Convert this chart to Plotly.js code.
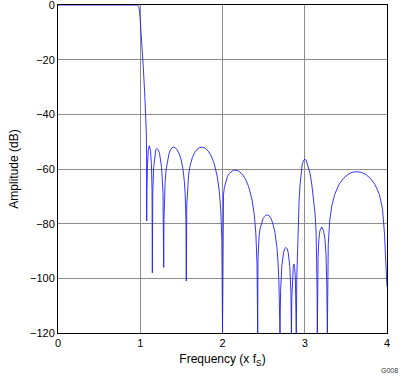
<!DOCTYPE html>
<html>
<head>
<meta charset="utf-8">
<script src="https://cdn.plot.ly/plotly-3.0.1.min.js"></script>
<style>html,body{margin:0;padding:0;background:#fff;}#chart{width:402px;height:377px;}</style>
</head>
<body>
<div id="chart"></div>
<script>
// Frequency (x fS) and amplitude (dB), grouped by lobe
const freqPass = [0, 0.5, 0.96, 0.975, 0.985, 0.997, 1.017, 1.037, 1.058, 1.07, 1.074, 1.077, 1.078];
const ampPass  = [0, 0, 0, -0.3, -0.8, -4.3, -12.8, -22.6, -34.8, -43, -47, -55, -79];

const freqStop = [
  1.0812, 1.0876, 1.0972, 1.110, 1.1248, 1.1359, 1.1433, 1.147,
  1.1486, 1.1523, 1.1629, 1.1788, 1.1894, 1.200, 1.217, 1.234, 1.2595, 1.2765, 1.2825, 1.285,
  1.2885, 1.2944, 1.3026, 1.3143, 1.3318, 1.3494, 1.3669, 1.3845, 1.402, 1.4257, 1.4494, 1.4731, 1.4968, 1.5205, 1.5363, 1.5474, 1.5553, 1.56,
  1.5656, 1.575, 1.5881, 1.6068, 1.6348, 1.6629, 1.6909, 1.719, 1.747, 1.785, 1.8229, 1.8609, 1.8988, 1.9368, 1.962, 1.9798, 1.9924, 2.0,
  2.0046, 2.0122, 2.0228, 2.038, 2.0608, 2.0836, 2.1064, 2.1292, 2.152, 2.1934, 2.2348, 2.2762, 2.3176, 2.359, 2.3866, 2.4059, 2.4197, 2.428,
  2.4315, 2.4374, 2.4456, 2.4573, 2.4748, 2.4924, 2.5099, 2.5275, 2.545, 2.5681, 2.5912, 2.6143, 2.6374, 2.6605, 2.6759, 2.6867, 2.6944, 2.699,
  2.7012, 2.7063, 2.7209, 2.7428, 2.7574, 2.772, 2.7852, 2.7984, 2.8182, 2.8314, 2.836, 2.838,
  2.842, 2.85, 2.86, 2.869, 2.877, 2.886, 2.893, 2.897,
  2.903, 2.91, 2.922, 2.932, 2.942, 2.955, 2.968, 2.985, 3.003, 3.02, 3.04, 3.064, 3.085, 3.104, 3.125, 3.138, 3.145, 3.15, 3.153,
  3.156, 3.162, 3.172, 3.185, 3.207, 3.228, 3.245, 3.258, 3.268, 3.272, 3.275,
  3.2857, 3.3035, 3.3284, 3.364, 3.4174, 3.4708, 3.5242, 3.5776, 3.631, 3.6864, 3.7417, 3.797, 3.8524, 3.9078, 3.9447, 3.955, 3.9705, 3.98, 3.988, 4.0
];
const ampStop = [
  -67.6, -58.4, -53.3, -51.5, -53.3, -58.4, -67.6, -98,
  -79, -68.6, -59.4, -54.3, -52.9, -52.5, -52.9, -54.3, -59.4, -68.6, -79, -96,
  -78.5, -70, -64.6, -60.3, -56.6, -54.4, -53, -52.2, -52, -52.2, -53, -54.4, -56.6, -60.3, -64.6, -70, -78.5, -101,
  -73.2, -66.4, -62.1, -58.6, -55.7, -53.9, -52.8, -52.2, -52, -52.3, -53.3, -55.1, -58, -62.8, -68.4, -75.4, -86.4, -120,
  -73.7, -69.4, -66.7, -64.6, -62.7, -61.6, -60.9, -60.5, -60.4, -60.7, -61.7, -63.5, -66.4, -71.2, -76.8, -83.8, -94.8, -120,
  -92.7, -87.6, -84.4, -81.8, -79.6, -78.2, -77.4, -76.9, -76.8, -77.1, -78.2, -80.2, -83.2, -88.4, -94.4, -102, -113.9, -120,
  -115.2, -104.8, -95.6, -90.5, -89.1, -88.7, -89.1, -90.5, -95.6, -104.8, -115.2, -120,
  -108, -99, -95.8, -94.8, -96, -100, -108, -120,
  -100, -90, -78, -71, -66, -61.5, -58.5, -56.8, -56.4, -57, -58.8, -61.6, -65.5, -70.1, -76.2, -83, -92, -104, -120,
  -105, -92, -85.5, -82.5, -81.2, -82.5, -85.5, -91, -102, -110, -120,
  -87.5, -79, -73.6, -69.3, -65.6, -63.4, -62, -61.2, -61, -61.2, -62, -63.4, -65.6, -69.3, -74.5, -77.5, -84, -91, -99.4, -103
];

const freq = freqPass.concat(freqStop);
const ampDb = ampPass.concat(ampStop);

const xTicks = [0, 1, 2, 3, 4];
const yTicks = [-120, -100, -80, -60, -40, -20, 0];
const xTitle = 'Frequency (x f<sub>S</sub>)';
const yTitle = 'Amplitude (dB)';
const figId = 'G008';

const font = 'Liberation Sans, Arial, Helvetica, sans-serif';

Plotly.newPlot('chart', [{
  x: freq, y: ampDb, type: 'scatter', mode: 'lines',
  line: {color: '#1f1fff', width: 0.9},
  hoverinfo: 'skip', showlegend: false
}], {
  width: 402, height: 377,
  margin: {l: 58, r: 15, t: 5, b: 44, pad: 0},
  paper_bgcolor: '#fff', plot_bgcolor: '#fff',
  font: {family: font, size: 11, color: '#000'},
  xaxis: {
    range: [0, 4], tickvals: xTicks, ticktext: xTicks.map(String),
    showgrid: true, gridcolor: '#8c8c8c', gridwidth: 1,
    showline: true, linecolor: '#000', linewidth: 1, mirror: true,
    ticks: '', zeroline: false, layer: 'below traces',
    ticklabeloverflow: 'allow',
    tickfont: {family: font, size: 11, color: '#000'},
    title: {text: xTitle, font: {family: font, size: 12, color: '#000'}, standoff: 6}
  },
  yaxis: {
    range: [-120, 0], tickvals: yTicks, ticktext: yTicks.map(v => v < 0 ? '\u2212' + Math.abs(v) : String(v)),
    showgrid: true, gridcolor: '#8c8c8c', gridwidth: 1,
    showline: true, linecolor: '#000', linewidth: 1, mirror: true,
    ticks: '', zeroline: false, layer: 'below traces',
    ticklabeloverflow: 'allow',
    tickfont: {family: font, size: 11, color: '#000'},
    title: {text: yTitle, font: {family: font, size: 12, color: '#000'}, standoff: 8}
  },
  annotations: [{
    text: figId, xref: 'paper', yref: 'paper', x: 1.04, y: -0.113,
    xanchor: 'right', yanchor: 'middle', showarrow: false,
    font: {family: font, size: 7, color: '#333'}
  }]
}, {displayModeBar: false, staticPlot: true});
</script>
</body>
</html>
